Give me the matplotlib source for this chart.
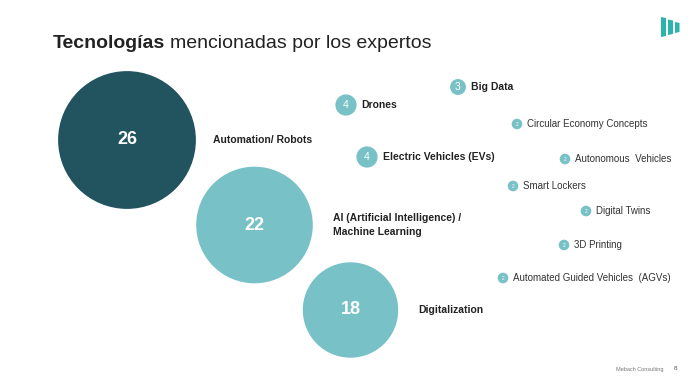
import matplotlib.pyplot as plt
from matplotlib.patches import Circle, Polygon

# data
techs = ['Automation/ Robots', 'AI (Artificial Intelligence) /\nMachine Learning',
         'Digitalization', 'Drones', 'Big Data', 'Electric Vehicles (EVs)',
         'Circular Economy Concepts', 'Autonomous  Vehicles', 'Smart Lockers',
         'Digital Twins', '3D Printing', 'Automated Guided Vehicles  (AGVs)']
mentions = [26, 22, 18, 4, 3, 4, 2, 2, 2, 2, 2, 2]

# layout (pixel coords of bubble centres)
cx = [127, 254.5, 350.5, 346, 458, 367, 517, 565, 513, 586, 564, 503]
cy = [140, 225, 310, 105, 87, 157, 124, 159, 186, 211, 245, 278]
label_x = [213, 333, 418, None, None, None, None, None, None, None, None, None]

dark = '#22545f'
light = '#78c1c7'
scale = 2.65  # px of radius per mention

plt.rcParams['font.family'] = ['Liberation Sans', 'DejaVu Sans']

fig = plt.figure(figsize=(7, 3.87), dpi=100)
ax = fig.add_axes([0, 0, 1, 1])
ax.set_xlim(0, 700)
ax.set_ylim(387, 0)
ax.set_aspect('equal')
ax.axis('off')

for i, (name, v) in enumerate(zip(techs, mentions)):
    r = v * scale
    col = dark if i == 0 else light
    ax.add_patch(Circle((cx[i], cy[i]), r, color=col, lw=0))
    if v >= 10:
        ax.text(cx[i], cy[i], str(v), color='white', fontsize=13, fontweight='bold',
                ha='center', va='center')
    else:
        ax.text(cx[i], cy[i] + 0.3, str(v), color='white',
                fontsize=7.5 if v > 2 else 3.5, ha='center', va='center')
    lx = label_x[i] if label_x[i] is not None else cx[i] + r + 5
    bold = v >= 3
    ax.text(lx, cy[i], name, color='#222222' if bold else '#333333',
            fontsize=7.5 if bold else 7, fontweight='bold' if bold else 'normal',
            ha='left', va='center', linespacing=1.5)

# title
t = ax.text(53, 48, 'Tecnologías', fontsize=14, fontweight='bold', color='#222222',
            ha='left', va='baseline')
fig.canvas.draw()
bb = t.get_window_extent()
ax.text(53 + bb.width + 5, 48, 'mencionadas por los expertos', fontsize=14,
        color='#222222', ha='left', va='baseline')

# logo
for x0, x1, top, bot in [(661, 666, 17, 37), (668, 673, 19.5, 35), (675, 679.5, 22, 33)]:
    ax.add_patch(Polygon([(x0, top), (x1, top + 1), (x1, bot - 1), (x0, bot)],
                         closed=True, color='#2bb3ad', lw=0))

# footer
ax.text(640, 369, 'Mebach Consulting', fontsize=4, color='#777777', ha='center', va='center')
ax.text(676, 369, '8', fontsize=4.5, color='#555555', ha='center', va='center')

fig.savefig('out.png', dpi=100)
